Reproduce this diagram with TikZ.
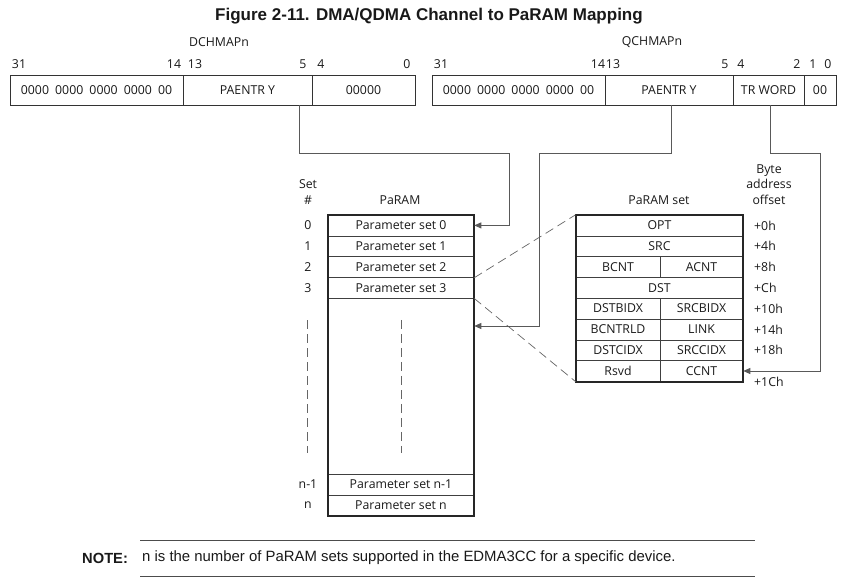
\documentclass[tikz,border=0pt]{standalone}
\usepackage{fontspec}
\setmainfont{Open Sans}
\newfontfamily\arialfont{Liberation Sans}
\usetikzlibrary{arrows.meta}

\begin{document}
\begin{tikzpicture}[x=1pt,y=-1pt,
    every node/.style={font=\fontsize{12.3}{14}\selectfont, text=black!90},
    field/.style={draw=black!80, line width=0.9pt, minimum height=30pt, inner sep=0pt},
    cell/.style={draw=black!75, line width=0.6pt, minimum height=20.8pt, inner sep=0pt},
    bitnum/.style={inner sep=0pt},
    outline/.style={draw=black!85, line width=2pt},
    link/.style={draw=black!65, line width=0.8pt},
    linkarrow/.style={link, -{Triangle[length=7pt,width=6pt]}},
    guide/.style={draw=black!60, line width=0.7pt, dash pattern=on 9pt off 5pt}]
    \useasboundingbox (0,0) rectangle (863,579);

    % Title
    \node[font=\arialfont\bfseries\fontsize{17}{19}\selectfont] (title) at (429,16)
        {Figure 2-11. DMA/QDMA Channel to PaRAM Mapping};

    % DCHMAPn register
    \node (dname) at (219,42) {DCHMAPn};
    \node[field, minimum width=173pt] (d1) at (96.5,90) {0000\enspace 0000\enspace 0000\enspace 0000\enspace 00};
    \node[field, minimum width=129pt] (d2) at (247.5,90) {PAENTR Y};
    \node[field, minimum width=103pt] (d3) at (363.5,90) {00000};
    \foreach \x/\b [count=\k] in {19/31,174/14,195/13,303/5,321/4,407/0} {
        \node[bitnum] (dbit\k) at (\x,64) {\b};
    }

    % QCHMAPn register
    \node (qname) at (652,42) {QCHMAPn};
    \node[field, minimum width=173pt] (q1) at (518.5,90) {0000\enspace 0000\enspace 0000\enspace 0000\enspace 00};
    \node[field, minimum width=128pt] (q2) at (669,90) {PAENTR Y};
    \node[field, minimum width=71pt] (q3) at (768.5,90) {TR WORD};
    \node[field, minimum width=32pt] (q4) at (820,90) {00};
    \foreach \x/\b [count=\k] in {441/31,598/14,613/13,725/5,741/4,797/2,813/1,828/0} {
        \node[bitnum] (qbit\k) at (\x,64) {\b};
    }

    % PaRAM table
    \node (sethd) at (308,184) {Set};
    \node (sethash) at (308,200) {\#};
    \node (paramhd) at (400,200) {PaRAM};
    \foreach \i in {0,...,3} {
        \node[cell, minimum width=146pt] (prow\i) at (401,225.4+20.8*\i) {Parameter set \i};
        \node (set\i) at (308,225.4+20.8*\i) {\i};
    }
    \node[cell, draw=none, minimum width=146pt, minimum height=175.8pt] (pgap) at (401,386.1) {};
    \node[cell, minimum width=146pt] (prown1) at (401,484.6) {Parameter set n-1};
    \node[cell, minimum width=146pt] (prown) at (401,505.4) {Parameter set n};
    \node (setn1) at (308,484.6) {n-1};
    \node (setn) at (308,505.4) {n};
    \draw[outline] (prow0.north west) rectangle (prown.south east);
    % dots down the gap
    \draw[guide] (307,320) -- (307,453);
    \draw[guide] ([yshift=-22pt]pgap.north) -- ([yshift=21pt]pgap.south);

    % PaRAM set table
    \node (psethd) at (659,200) {PaRAM set};
    \node[font=\fontsize{12.3}{15.5}\selectfont, align=center] (bytehd) at (769,184.5) {Byte\\address\\offset};
    \foreach \i/\txt in {0/OPT,1/SRC,3/DST} {
        \node[cell, minimum width=167pt] (s\i) at (659.5,225.4+20.8*\i) {\txt};
    }
    \foreach \i/\lft/\rgt in {2/BCNT/ACNT,4/DSTBIDX/SRCBIDX,5/BCNTRLD/LINK,6/DSTCIDX/SRCCIDX,7/Rsvd/CCNT} {
        \node[cell, minimum width=84pt] (sl\i) at (618,225.4+20.8*\i) {\lft};
        \node[cell, minimum width=83pt] (sr\i) at (701.5,225.4+20.8*\i) {\rgt};
    }
    \draw[outline] (s0.north west) rectangle (sr7.south east);
    \foreach \off [count=\i from 0] in {+0h,+4h,+8h,+Ch,+10h,+14h,+18h} {
        \node[anchor=west, inner sep=0pt] (off\i) at (754,225.4+20.8*\i) {\off};
    }
    \node[anchor=west, inner sep=0pt] (off7) at (754,382) {+1Ch};

    % Expansion of set 3
    \draw[guide] (prow2.south east) -- (s0.north west);
    \draw[guide] (prow3.south east) -- (sl7.south west);

    % Channel mapping arrows
    \coordinate (gapin) at (pgap.east |- 0,326);
    \draw[linkarrow] ([xshift=51.5pt]d2.south) -- ++(0,48) -| ([xshift=35pt]prow0.east) -- (prow0.east);
    \draw[linkarrow] ([xshift=2pt]q2.south) -- ++(0,48) -| ([xshift=65pt]gapin) -- (gapin);
    \draw[linkarrow] ([xshift=1.5pt]q3.south) -- ++(0,48) -| ([xshift=77pt]sr7.east) -- (sr7.east);

    % Note
    \draw[black!70, line width=0.8pt] (140,540) -- (755,540);
    \draw[black!70, line width=0.8pt] (140,576) -- (755,576);
    \node[anchor=west, inner sep=0pt, font=\arialfont\bfseries\fontsize{14.7}{16}\selectfont] (notehd) at (82,558) {NOTE:};
    \node[anchor=west, inner sep=0pt, font=\arialfont\fontsize{14.9}{16}\selectfont] (notetxt) at (142,558)
        {n is the number of PaRAM sets supported in the EDMA3CC for a specific device.};
\end{tikzpicture}
\end{document}
